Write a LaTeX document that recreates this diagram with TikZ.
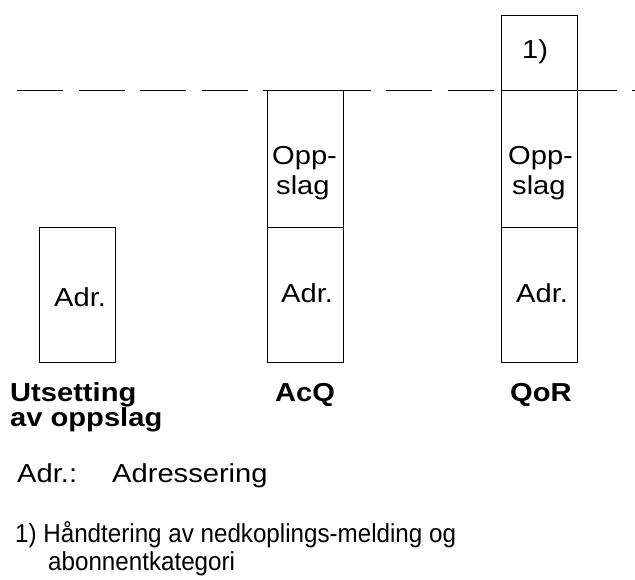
\documentclass[tikz,border=0pt]{standalone}
\usepackage{fontspec}
\setmainfont{Liberation Sans}
\newfontfamily\mainf{Liberation Sans}[FakeStretch=1.12]
\newfontfamily\footf{Liberation Sans}[FakeStretch=0.93]
\begin{document}
\begin{tikzpicture}[x=1pt,y=-1pt,
  cell/.style={draw=black,line width=1pt,rectangle,inner sep=0pt,anchor=north west,minimum width=76pt},
  txt/.style={anchor=base west,inner sep=0pt,font=\mainf\fontsize{26}{28}\selectfont},
  btxt/.style={anchor=base west,inner sep=0pt,font=\mainf\bfseries\fontsize{26}{28}\selectfont},
  ftxt/.style={anchor=base west,inner sep=0pt,font=\footf\fontsize{26}{28}\selectfont},
  level/.style={line width=1pt,dash pattern=on 46pt off 15.5pt}]
\useasboundingbox (0,0) rectangle (635,579);
% dashed level line
\coordinate (lvlA) at (17,90);
\coordinate (lvlB) at (636,90);
\draw[level] (lvlA) -- (lvlB);
% box 1
\node[cell,minimum height=135pt] (b1) at (39,227) {};
% box 2
\node[cell,minimum height=137pt] (b2a) at (267,90) {};
\node[cell,minimum height=135pt] (b2b) at (267,227) {};
% box 3
\node[cell,minimum height=75pt] (b3a) at (500.5,15) {};
\node[cell,minimum height=137pt] (b3b) at (500.5,90) {};
\node[cell,minimum height=135pt] (b3c) at (500.5,227) {};
% texts in boxes
\node[txt] (t1) at (54,306) {Adr.};
\node[txt] (t2a) at (272,164) {Opp-};
\node[txt] (t2b) at (276,194) {slag};
\node[txt] (t2c) at (281,302) {Adr.};
\node[txt] (t3a) at (522,58) {1)};
\node[txt] (t3b) at (508,164) {Opp-};
\node[txt] (t3c) at (512,194) {slag};
\node[txt] (t3d) at (516,302) {Adr.};
% labels
\node[btxt] (l1a) at (10,401) {Utsetting};
\node[btxt] (l1b) at (10,426) {av oppslag};
\node[btxt] (l2) at (275,401) {AcQ};
\node[btxt] (l3) at (510,401) {QoR};
% legend
\node[txt] (k1) at (17,482) {Adr.:};
\node[txt] (k2) at (112,482) {Adressering};
\node[ftxt] (f1) at (15,542) {1) Håndtering av nedkoplings-melding og};
\node[ftxt] (f2) at (48,570) {abonnentkategori};
\end{tikzpicture}
\end{document}
